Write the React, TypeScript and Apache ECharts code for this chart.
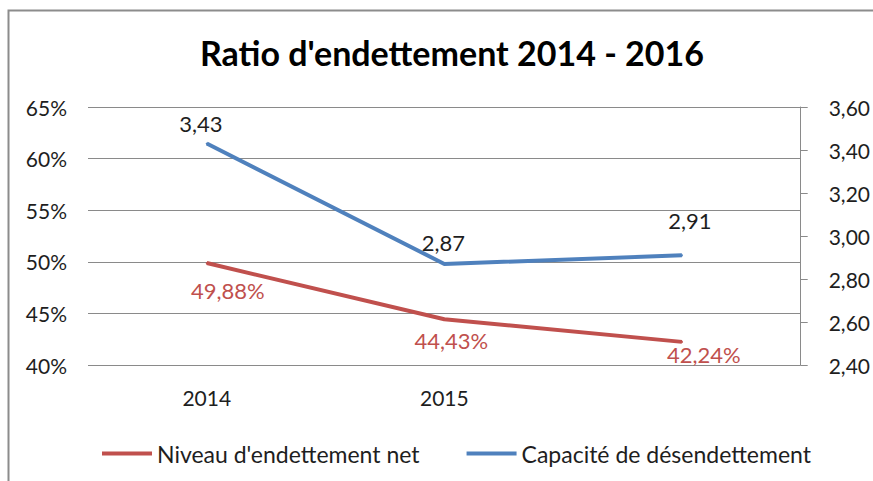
import React, { useEffect, useRef } from "react";
import * as echarts from "echarts";

const categories = ["2014", "2015", ""];
const niveauNet = [49.88, 44.43, 42.24];
const capacite = [3.43, 2.87, 2.91];
const niveauOffsets = [[21, 10], [7, 4], [22, -4]];
const capaciteOffsets = [[-6, -3], [-1, -4], [8, -18]];

const FONT = "Lato, 'Open Sans', sans-serif";
const RED = "#C0504D";
const BLUE = "#4F81BD";
const TXT = "#1e1e1e";

const fmt = (v: number, d: number) => v.toFixed(d).replace(".", ",");

export default function App() {
  const ref = useRef<HTMLDivElement>(null);
  useEffect(() => {
    if (!ref.current) return;
    const chart = echarts.init(ref.current, undefined, { renderer: "svg" });
    chart.setOption({
      animation: false,
      backgroundColor: "#fff",
      title: {
        text: "Ratio d'endettement 2014 - 2016",
        left: 195,
        top: 30,
        textStyle: { fontFamily: FONT, fontWeight: "bold", fontSize: 34, color: "#000" },
      },
      graphic: [
        {
          type: "rect",
          shape: { x: 8.5, y: 10.5, width: 900, height: 500 },
          style: { fill: "none", stroke: "#8c8c8c", lineWidth: 2 },
        },
      ],
      legend: {
        left: 97,
        top: 437,
        icon: "rect",
        itemWidth: 50,
        itemHeight: 4,
        itemGap: 47,
        textStyle: { fontFamily: FONT, fontSize: 23, color: TXT },
        data: ["Niveau d'endettement net", "Capacité de désendettement"],
      },
      grid: { left: 88, right: 67, top: 107, bottom: 116 },
      xAxis: {
        type: "category",
        data: categories,
        boundaryGap: true,
        axisLine: { show: false },
        axisTick: { show: false },
        axisLabel: { fontFamily: FONT, fontSize: 21, color: TXT, margin: 22 },
      },
      yAxis: [
        {
          type: "value",
          min: 40,
          max: 65,
          interval: 5,
          axisLine: { show: false },
          axisTick: { show: false },
          axisLabel: {
            fontFamily: FONT,
            fontSize: 21,
            color: TXT,
            margin: 21,
            formatter: (v: number) => v + "%",
          },
          splitLine: { lineStyle: { color: "#8a8a8a", width: 1 } },
        },
        {
          type: "value",
          min: 2.4,
          max: 3.6,
          interval: 0.2,
          position: "right",
          axisLine: { show: true, lineStyle: { color: "#8a8a8a", width: 1 } },
          axisTick: { show: true, length: 7, lineStyle: { color: "#8a8a8a" } },
          axisLabel: {
            fontFamily: FONT,
            fontSize: 21,
            color: TXT,
            margin: 28,
            formatter: (v: number) => fmt(v, 2),
          },
          splitLine: { show: false },
        },
      ],
      series: [
        {
          name: "Niveau d'endettement net",
          type: "line",
          yAxisIndex: 0,
          symbol: "circle",
          symbolSize: 2,
          itemStyle: { color: RED },
          lineStyle: { color: RED, width: 4 },
          data: niveauNet.map((v, i) => ({
            value: v,
            label: {
              show: true,
              position: "bottom",
              offset: niveauOffsets[i],
              formatter: fmt(v, 2) + "%",
              fontFamily: FONT,
              fontSize: 22,
              color: RED,
            },
          })),
        },
        {
          name: "Capacité de désendettement",
          type: "line",
          yAxisIndex: 1,
          symbol: "circle",
          symbolSize: 2,
          itemStyle: { color: BLUE },
          lineStyle: { color: BLUE, width: 4 },
          data: capacite.map((v, i) => ({
            value: v,
            label: {
              show: true,
              position: "top",
              offset: capaciteOffsets[i],
              formatter: fmt(v, 2),
              fontFamily: FONT,
              fontSize: 22,
              color: TXT,
            },
          })),
        },
      ],
    });
    return () => chart.dispose();
  }, []);
  return (
    <div
      ref={ref}
      style={{ position: "fixed", left: 0, top: 0, width: 873, height: 481 }}
    />
  );
}
